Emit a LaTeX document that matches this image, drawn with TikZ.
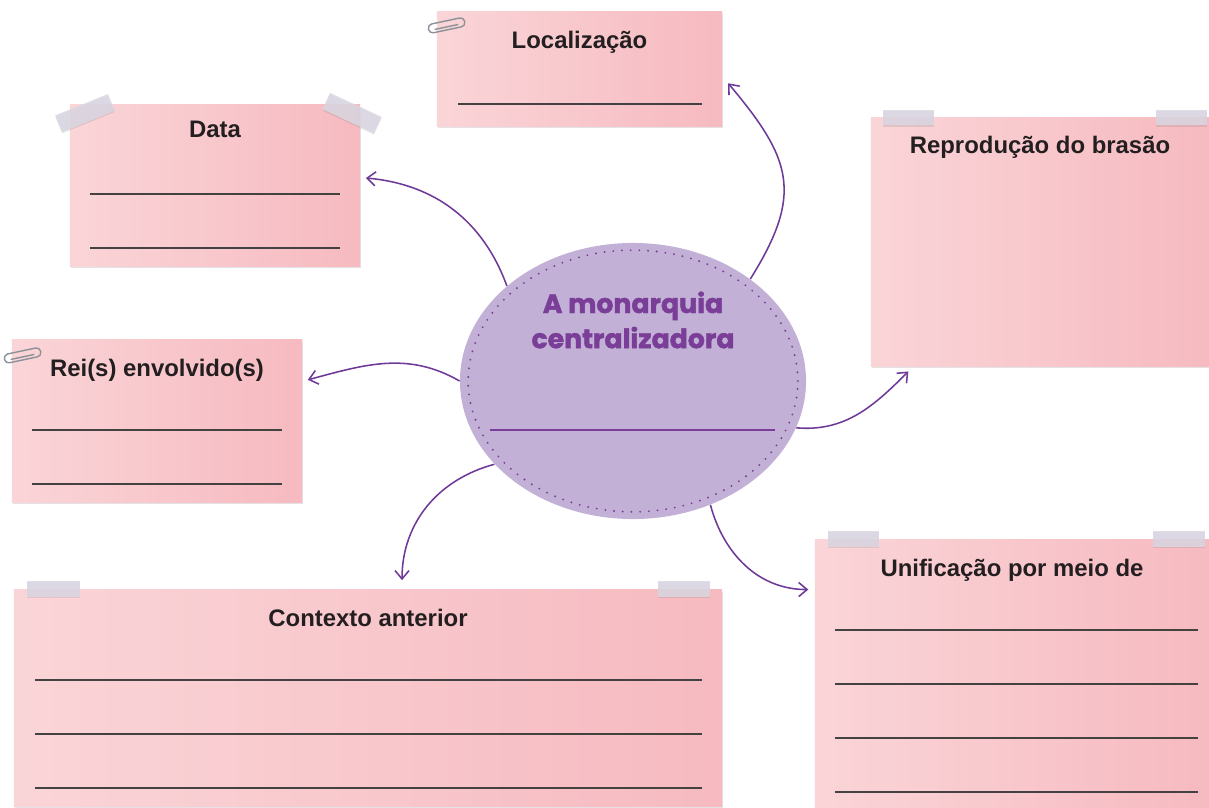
\documentclass[tikz,border=0pt]{standalone}
\usepackage{fontspec}
\setmainfont{Liberation Sans}
\newfontfamily\monfont[BoldFeatures={FakeBold=1.6}]{Poppins}
\usetikzlibrary{arrows.meta,positioning,shapes.geometric,shadows}

\definecolor{cardleft}{HTML}{FAD5D8}
\definecolor{cardright}{HTML}{F6BAC0}
\definecolor{ovalfill}{HTML}{C3B0D6}
\definecolor{ovalink}{HTML}{7A3E98}
\definecolor{linkpurple}{HTML}{6E3A98}
\definecolor{tapegray}{HTML}{DAD7E3}
\definecolor{clipgray}{HTML}{8C9198}
\definecolor{inkdark}{HTML}{231F20}

\begin{document}
\begin{tikzpicture}[x=0.025cm,y=-0.025cm,>={Straight Barb[length=6pt,width=10pt]},
                    semithick,
  card/.style={rectangle,inner sep=0pt,left color=cardleft,right color=cardright,
               drop shadow={shadow xshift=0.6pt,shadow yshift=-1.6pt,opacity=.22}},
  title/.style={font=\fontsize{17}{20}\selectfont\bfseries,text=inkdark},
  blank/.style={draw=inkdark!85,line width=0.9pt},
  tape/.style={rectangle,inner sep=0pt,fill=tapegray,fill opacity=.85,
               drop shadow={shadow xshift=0pt,shadow yshift=-1pt,opacity=.2}},
  paperclip/.style={draw=clipgray,line width=1pt,rounded corners=3pt},
  link/.style={->,draw=linkpurple,line width=1.1pt,shorten >=1pt}]
  \useasboundingbox (0,0) rectangle (1209,808);

  % centre
  \node[ellipse,fill=ovalfill,minimum width=8.65cm,minimum height=6.9cm,inner sep=0pt] (mon) at (633,381) {};
  \draw[ovalink,line width=1.5pt,line cap=round,dash pattern=on 0pt off 6.2pt]
     (mon.center) ellipse [x radius=4.12cm,y radius=3.27cm];
  \node[font=\monfont\bfseries\fontsize{19}{25}\selectfont,text=ovalink,align=center] (mon-t) at (633,320)
     {A monarquia\\centralizadora};
  \draw[ovalink,line width=0.8pt] (490,430) -- (775,430);

  % cards
  \node[card,minimum width=7.125cm,minimum height=2.85cm] (loc) at (579.5,69) {};
  \node[title] (loc-t) at ([yshift=-0.77cm]loc.north) {Localização};
  \draw[blank] (458,104) -- (702,104);

  \node[card,minimum width=7.25cm,minimum height=4.025cm] (data) at (215,185.5) {};
  \node[title] (data-t) at ([yshift=-0.63cm]data.north) {Data};
  \draw[blank] (90,194) -- (340,194);
  \draw[blank] (90,248) -- (340,248);

  \node[card,minimum width=8.45cm,minimum height=6.2cm] (bras) at (1040,242) {};
  \node[title] (bras-t) at ([yshift=-0.75cm]bras.north) {Reprodução do brasão};

  \node[card,minimum width=7.25cm,minimum height=4.05cm] (rei) at (157,421) {};
  \node[title] (rei-t) at ([yshift=-0.77cm]rei.north) {Rei(s) envolvido(s)};
  \draw[blank] (32,430) -- (282,430);
  \draw[blank] (32,484) -- (282,484);

  \node[card,minimum width=17.7cm,minimum height=5.4cm] (ctx) at (368,698) {};
  \node[title] (ctx-t) at ([yshift=-0.72cm]ctx.north) {Contexto anterior};
  \draw[blank] (35,680) -- (702,680);
  \draw[blank] (35,734) -- (702,734);
  \draw[blank] (35,788) -- (702,788);

  \node[card,minimum width=9.85cm,minimum height=6.7cm] (unif) at (1012,674) {};
  \node[title] (unif-t) at ([yshift=-0.77cm]unif.north) {Unificação por meio de};
  \draw[blank] (835,630) -- (1198,630);
  \draw[blank] (835,684) -- (1198,684);
  \draw[blank] (835,738) -- (1198,738);
  \draw[blank] (835,792) -- (1198,792);

  % tapes and clips
  \node[tape,minimum width=1.42cm,minimum height=0.45cm,rotate=22] (data-tl) at (85,113) {};
  \node[tape,minimum width=1.42cm,minimum height=0.45cm,rotate=-25] (data-tr) at (352,113) {};
  \node[tape,minimum width=1.28cm,minimum height=0.38cm] (bras-tl) at (908.5,117.5) {};
  \node[tape,minimum width=1.28cm,minimum height=0.38cm] (bras-tr) at (1181.5,117.5) {};
  \node[tape,minimum width=1.32cm,minimum height=0.4cm] (ctx-tl) at (53.5,589) {};
  \node[tape,minimum width=1.32cm,minimum height=0.4cm] (ctx-tr) at (684,589) {};
  \node[tape,minimum width=1.28cm,minimum height=0.4cm] (unif-tl) at (853.5,539) {};
  \node[tape,minimum width=1.3cm,minimum height=0.4cm] (unif-tr) at (1179,539) {};
  \draw[paperclip,rotate around={12:(446,25)}] (428,21) rectangle (465,30);
  \draw[paperclip,rotate around={12:(446,25)}] (434,27) -- (458,27);
  \draw[paperclip,rotate around={12:(22,355)}] (4,351) rectangle (41,360);
  \draw[paperclip,rotate around={12:(22,355)}] (10,357) -- (34,357);

  % links
  \path (mon.41) edge[link,out=58,in=-50,looseness=1.3] ([xshift=0.12cm,yshift=-0.33cm]loc.east)
        (mon.143) edge[link,out=110,in=-5] ([xshift=0.1cm,yshift=0.19cm]data.east)
        (mon.180) edge[link,out=150,in=15] ([xshift=0.1cm,yshift=1.02cm]rei.east)
        (mon.211) edge[link,out=195,in=90] ([xshift=0.85cm,yshift=0.2cm]ctx.north)
        (mon.-58) edge[link,out=-75,in=180] ([xshift=-0.12cm,yshift=-1.25cm]unif.north west)
        (mon.-16) edge[link,out=-5,in=-135] ([xshift=0.97cm,yshift=-0.1cm]bras.south west);

\end{tikzpicture}
\end{document}
